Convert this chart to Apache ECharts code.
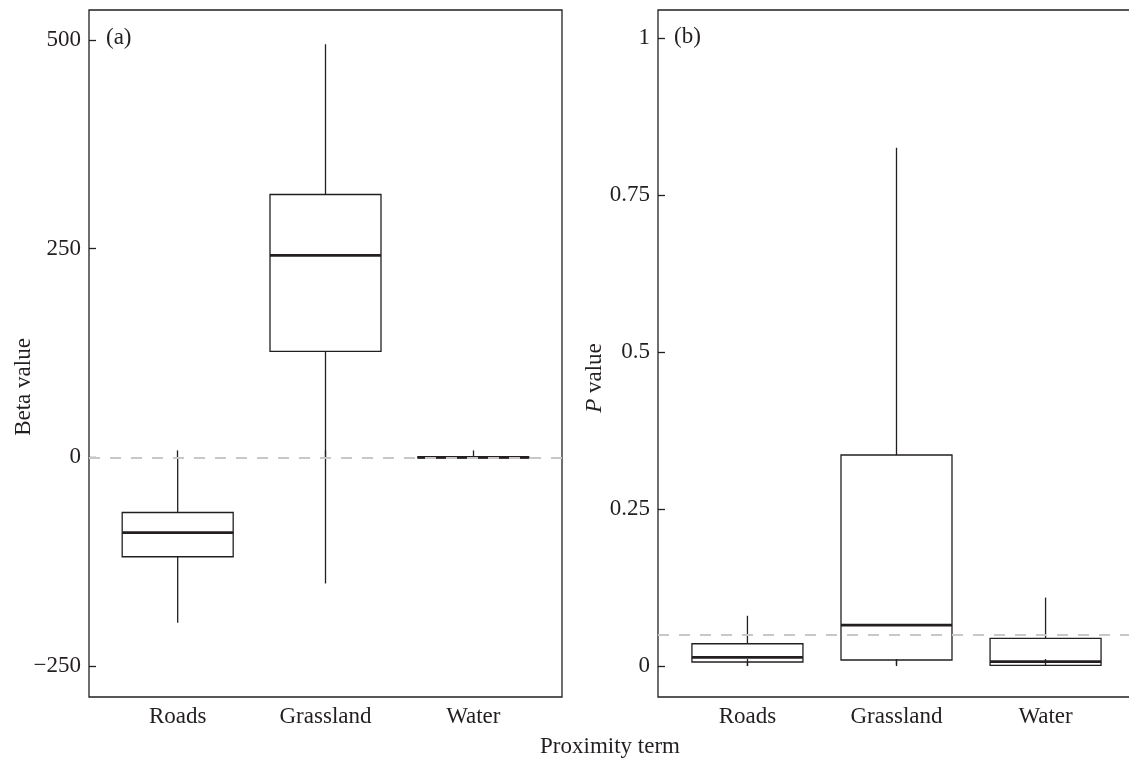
<!DOCTYPE html>
<html>
<head>
<meta charset="utf-8">
<script src="https://cdn.jsdelivr.net/npm/echarts@6/dist/echarts.min.js"></script>
<style>
    html, body {margin: 0; padding: 0; background: #fff;}
    #chart {width: 1129px; height: 759px;}
</style>
</head>
<body>
<div id="chart"></div>
<script>
// ------------------ data ------------------
var categories = ['Roads', 'Grassland', 'Water'];
var categoryPos = [1, 2, 3];

// [min, Q1, median, Q3, max]
var betaRoads = [-198, -119, -90, -66, 0];
var betaGrassland = [-151, 127, 242, 315, 495];
var betaWater = [-1, -0.6, 0, 0.6, 1];

var pRoads = [0.0, 0.0064, 0.0138, 0.0355, 0.080];
var pGrassland = [0.002, 0.0096, 0.065, 0.336, 0.825];
var pWater = [0.0, 0.001, 0.0069, 0.044, 0.109];

var betaTicks = [-250, 0, 250, 500];
var pTicks = [0, 0.25, 0.5, 0.75, 1];
var betaRef = 0;
var pRef = 0.05;

// ------------------ style ------------------
var INK = '#231f20';
var FONT = '"Liberation Serif", "DejaVu Serif", serif';
var FS = 23;
var BOX_W = 111;

function rows(list) {
    var out = [];
    for (var i = 0; i < list.length; i++) {
        out.push([categoryPos[i]].concat(list[i]));
    }
    return out;
}

function renderBox(params, api) {
    var x = api.value(0);
    var lo = api.coord([x, api.value(1)]);
    var q1 = api.coord([x, api.value(2)]);
    var med = api.coord([x, api.value(3)]);
    var q3 = api.coord([x, api.value(4)]);
    var hi = api.coord([x, api.value(5)]);
    var half = BOX_W / 2;
    var ls = {stroke: INK, lineWidth: 1.3};
    return {
        type: 'group',
        children: [
            {type: 'line', shape: {x1: hi[0], y1: hi[1], x2: q3[0], y2: q3[1]}, style: ls},
            {type: 'line', shape: {x1: q1[0], y1: q1[1], x2: lo[0], y2: lo[1]}, style: ls},
            {type: 'rect', shape: {x: q3[0] - half, y: q3[1], width: BOX_W, height: q1[1] - q3[1]},
                style: {fill: 'none', stroke: INK, lineWidth: 1.3}},
            {type: 'line', shape: {x1: med[0] - half, y1: med[1], x2: med[0] + half, y2: med[1]},
                style: {stroke: INK, lineWidth: 2.8}}
        ]
    };
}

function tickFmt(v) {
    return v < 0 ? '\u2212' + Math.abs(v) : String(v);
}

function xAxisFor(idx) {
    return {
        gridIndex: idx,
        type: 'value',
        min: 0.4,
        max: 3.6,
        axisLine: {show: false},
        splitLine: {show: false},
        axisTick: {inside: true, length: 7, customValues: categoryPos, lineStyle: {color: INK, width: 1.3}},
        axisLabel: {
            customValues: categoryPos,
            margin: 8,
            color: INK, fontFamily: FONT, fontSize: FS,
            formatter: function (v) { return categories[Math.round(v) - 1]; }
        }
    };
}

function yAxisFor(idx, min, max, ticks) {
    return {
        gridIndex: idx,
        type: 'value',
        min: min,
        max: max,
        axisLine: {show: false},
        splitLine: {show: false},
        axisTick: {inside: true, length: 7, customValues: ticks, lineStyle: {color: INK, width: 1.3}},
        axisLabel: {
            customValues: ticks,
            margin: 8,
            color: INK, fontFamily: FONT, fontSize: FS,
            formatter: tickFmt
        }
    };
}

function refLine(value) {
    return {
        silent: true,
        symbol: ['none', 'none'],
        label: {show: false},
        lineStyle: {color: '#c8c8c8', width: 2, type: [11, 10]},
        data: [{yAxis: value}]
    };
}

function drawChart() {
    var myChart = echarts.init(document.getElementById('chart'));
    var option = {
        backgroundColor: '#fff',
        animation: false,
        grid: [
            {left: 89, top: 10, width: 473, height: 687, show: true, borderColor: INK, borderWidth: 1.3,
                outerBoundsMode: 'none', containLabel: false},
            {left: 658, top: 10, width: 477, height: 687, show: true, borderColor: INK, borderWidth: 1.3,
                outerBoundsMode: 'none', containLabel: false}
        ],
        xAxis: [xAxisFor(0), xAxisFor(1)],
        yAxis: [
            yAxisFor(0, -287, 536, betaTicks),
            yAxisFor(1, -0.0493, 1.0445, pTicks)
        ],
        series: [
            {
                name: 'Beta value',
                type: 'custom',
                xAxisIndex: 0,
                yAxisIndex: 0,
                renderItem: renderBox,
                encode: {x: 0, y: [1, 2, 3, 4, 5]},
                data: rows([betaRoads, betaGrassland, betaWater]),
                markLine: refLine(betaRef)
            },
            {
                name: 'P value',
                type: 'custom',
                xAxisIndex: 1,
                yAxisIndex: 1,
                renderItem: renderBox,
                encode: {x: 0, y: [1, 2, 3, 4, 5]},
                data: rows([pRoads, pGrassland, pWater]),
                markLine: refLine(pRef)
            }
        ],
        graphic: [
            {type: 'text', left: 106, top: 26, style: {text: '(a)', fill: INK, font: FS + 'px ' + FONT}},
            {type: 'text', left: 674, top: 25, style: {text: '(b)', fill: INK, font: FS + 'px ' + FONT}},
            {
                type: 'text', x: 24, y: 387, rotation: Math.PI / 2,
                style: {text: 'Beta value', fill: INK, font: FS + 'px ' + FONT, textAlign: 'center', textVerticalAlign: 'middle'}
            },
            {
                type: 'text', x: 595, y: 378, rotation: Math.PI / 2,
                style: {
                    text: '{i|P} value', fill: INK, font: FS + 'px ' + FONT, textAlign: 'center', textVerticalAlign: 'middle',
                    rich: {i: {fontStyle: 'italic', fontFamily: FONT, fontSize: FS, fill: INK}}
                }
            },
            {
                type: 'text', x: 610, y: 747,
                style: {text: 'Proximity term', fill: INK, font: FS + 'px ' + FONT, textAlign: 'center', textVerticalAlign: 'middle'}
            }
        ]
    };
    myChart.setOption(option);
}
drawChart();
</script>
</body>
</html>
